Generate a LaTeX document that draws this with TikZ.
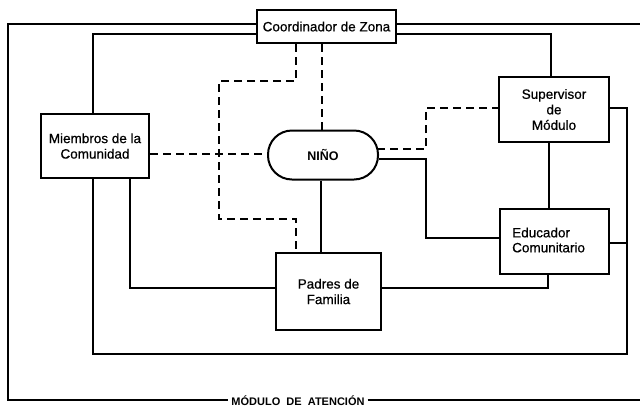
\documentclass[tikz,border=0pt]{standalone}
\usepackage{fontspec}
\setmainfont{Liberation Sans}
\newfontfamily\boxfont{Liberation Sans}[UprightFeatures={FakeBold=0.6}]
\newfontfamily\heavyfont{Liberation Sans Bold}
\begin{document}
\begin{tikzpicture}[x=1pt,y=-1pt,
  every node/.style={inner sep=0pt},
  ln/.style={line width=2pt, line join=miter},
  dsh/.style={line width=2pt, dash pattern=on 8pt off 5pt},
  box/.style={draw, line width=2pt, fill=white, align=center,
    font=\boxfont\fontsize{13.5}{15.5}\selectfont},
  lbl/.style={font=\boxfont\fontsize{13.5}{15}\selectfont, align=left}
]
\useasboundingbox (0,0) rectangle (640,408);
\fill[white] (0,0) rectangle (640,408);

% nodes
\node[box, minimum width=139pt, minimum height=33pt] (coord) at (326.5,26.5) {Coordinador de Zona};
\node[box, minimum width=108pt, minimum height=64pt] (miem) at (95,146) {Miembros de la\\Comunidad};
\node[box, minimum width=110pt, minimum height=49pt, rounded corners=24pt,
      font=\heavyfont\fontsize{12.5}{14}\selectfont] (nino) at (323,155) {NIÑO};
\node[box, minimum width=110pt, minimum height=65pt] (sup) at (554,109.5) {Supervisor\\de\\Módulo};
\node[box, minimum width=109pt, minimum height=65pt] (edu) at (554.5,241.5) {};
\node[lbl, anchor=west] (edut) at (512,240) {Educador\\Comunitario};
\node[box, minimum width=105pt, minimum height=77pt] (pad) at (328.5,291.5) {Padres de\\Familia};
\node[font=\heavyfont\fontsize{11}{12}\selectfont, inner xsep=3pt] (mod) at (298,401) {MÓDULO\ \ DE\ \ ATENCIÓN};

% outer frame
\draw[ln] (coord.west |- 0,24) -- (8,24) -- (8,400) -- (mod.west |- 0,400);
\draw[ln] (mod.east |- 0,400) -- (644,400);
\draw[ln] (coord.east |- 0,24) -- (644,24);

% inner frame
\draw[ln] (coord.west |- 0,34) -- (93,34) -- (93,0 |- miem.north);
\draw[ln] (coord.east |- 0,34) -- (551,34) -- (551,0 |- sup.north);
\draw[ln] (93,0 |- miem.south) -- (93,354) -- (627,354) -- (627,108) -- (sup.east |- 0,108);
\draw[ln] (edu.east |- 0,243) -- (627,243);

% solid connectors
\draw[ln] (130,0 |- miem.south) -- (130,288) -- (pad.west |- 0,288);
\draw[ln] (pad.east |- 0,288) -- (548,288) -- (548,0 |- edu.south);
\draw[ln] (549,0 |- sup.south) -- (549,0 |- edu.north);
\draw[ln] (321,0 |- nino.south) -- (321,0 |- pad.north);
\draw[ln] (nino.east |- 0,159) -- (426,159) -- (426,238) -- (edu.west |- 0,238);

% dashed connectors
\draw[dsh] (miem.east |- 0,154) -- (268,154);
\draw[dsh] (296,0 |- coord.south) -- (296,81) -- (219,81) -- (219,219) -- (296,219) -- (296,0 |- pad.north);
\draw[dsh] (322,0 |- coord.south) -- (322,0 |- nino.north);
\draw[dsh] (377,149) -- (426,149) -- (426,108) -- (sup.west |- 0,108);
\end{tikzpicture}
\end{document}
